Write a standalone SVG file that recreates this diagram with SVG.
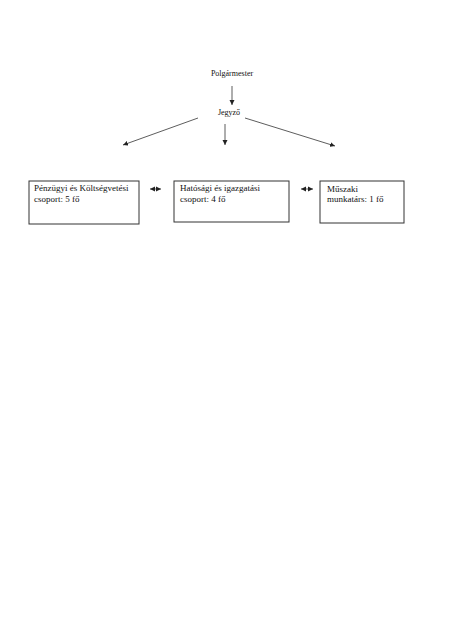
<svg xmlns="http://www.w3.org/2000/svg" width="455" height="642" viewBox="0 0 455 642">
<defs>
<marker id="ah" markerWidth="6" markerHeight="6" refX="5" refY="3" orient="auto" markerUnits="userSpaceOnUse">
<path d="M0,0.5 L5,3 L0,5.5 Z" fill="#222"/>
</marker>
<marker id="as" markerWidth="6" markerHeight="6" refX="0" refY="3" orient="auto" markerUnits="userSpaceOnUse">
<path d="M5,0.5 L0,3 L5,5.5 Z" fill="#222"/>
</marker>
<style>
text{font-family:"Liberation Serif","Times New Roman",serif;fill:#111}
.t{font-size:8px}
.b{font-size:9px}
.box{fill:#fff;stroke:#333;stroke-width:1}
.c{stroke:#333;stroke-width:0.8;fill:none}
</style>
</defs>
<rect width="455" height="642" fill="#fff"/>
<g id="connectors">
<line class="c" x1="232" y1="86" x2="232" y2="105" marker-end="url(#ah)"/>
<line class="c" x1="198" y1="118" x2="123" y2="145" marker-end="url(#ah)"/>
<line class="c" x1="225" y1="124" x2="225" y2="145" marker-end="url(#ah)"/>
<line class="c" x1="245" y1="118" x2="335" y2="146" marker-end="url(#ah)"/>
<line class="c" x1="150" y1="189" x2="161" y2="189" marker-start="url(#as)" marker-end="url(#ah)"/>
<line class="c" x1="301" y1="189" x2="313" y2="189" marker-start="url(#as)" marker-end="url(#ah)"/>
</g>
<g id="polgarmester">
<text class="t" x="232" y="76" text-anchor="middle">Polgármester</text>
</g>
<g id="jegyzo">
<text class="t" x="229" y="115" text-anchor="middle">Jegyző</text>
</g>
<g id="penzugyi">
<rect class="box" x="29" y="181" width="110" height="43"/>
<text class="b" x="34" y="191">Pénzügyi és Költségvetési</text>
<text class="b" x="34" y="201.5">csoport: 5 fő</text>
</g>
<g id="hatosagi">
<rect class="box" x="174" y="181" width="115" height="41"/>
<text class="b" x="180" y="191">Hatósági és igazgatási</text>
<text class="b" x="180" y="201.5">csoport: 4 fő</text>
</g>
<g id="muszaki">
<rect class="box" x="320" y="181" width="84" height="42"/>
<text class="b" x="327" y="191.5">Műszaki</text>
<text class="b" x="327" y="202">munkatárs: 1 fő</text>
</g>
</svg>
